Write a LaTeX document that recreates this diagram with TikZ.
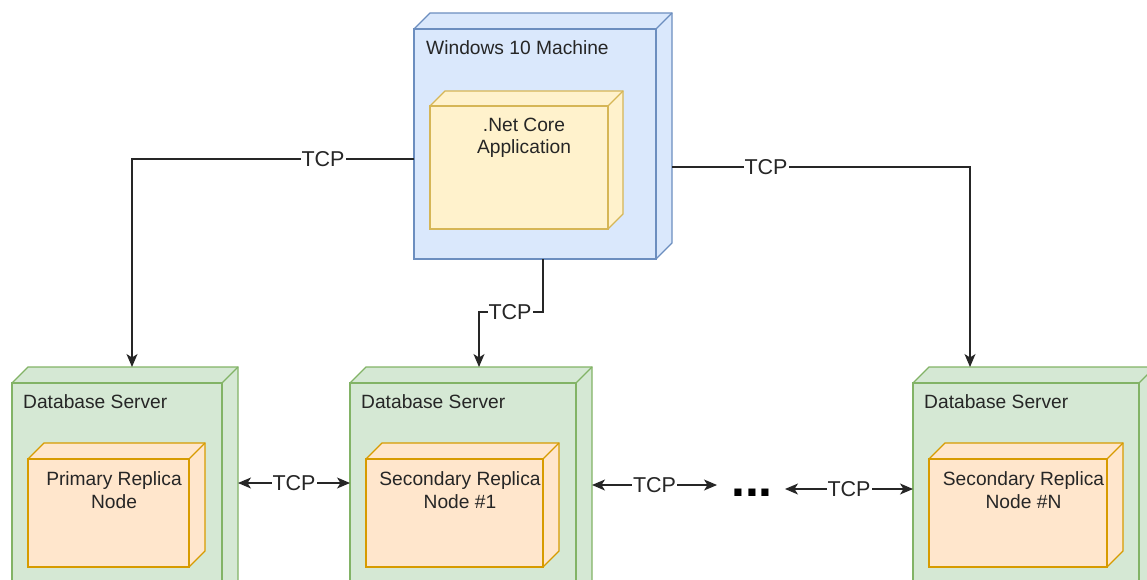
\documentclass[tikz,border=0pt]{standalone}
\usepackage{fontspec}
\setmainfont{Liberation Sans}
\usetikzlibrary{arrows.meta,calc}
\definecolor{bluef}{HTML}{DAE8FC}
\definecolor{blued}{HTML}{6C8EBF}
\definecolor{yellf}{HTML}{FFF2CC}
\definecolor{yelld}{HTML}{D6B656}
\definecolor{greenf}{HTML}{D5E8D4}
\definecolor{greend}{HTML}{82B366}
\definecolor{orf}{HTML}{FFE6CC}
\definecolor{ord}{HTML}{D79B00}
\definecolor{txt}{HTML}{262626}
\newcommand\cubebox[8]{%
  \filldraw[fill=#7,draw=#8,boxline] (#2,#3) -- (#2+#6,#3-#6) -- (#4+#6,#3-#6) -- (#4+#6,#5-#6) -- (#4,#5) -- cycle;
  \draw[draw=#8,boxline] (#4,#3) -- (#4+#6,#3-#6);
  \node[draw=#8,fill=#7,boxline,anchor=north west,inner sep=0pt,outer sep=0pt,
        minimum width={(#4-#2)*1pt},minimum height={(#5-#3)*1pt}] (#1) at (#2,#3) {};
}
\begin{document}
\begin{tikzpicture}[x=1pt,y=-1pt,
  boxline/.style={line width=1.3pt,line join=miter},
  boxtext/.style={text=txt,font=\fontsize{19.2}{22.5}\selectfont,inner sep=0pt},
  conn/.style={draw=black!85,line width=1.3pt},
  tip/.style={-{Stealth[length=13pt,width=11pt,inset=3.5pt]}},
  both/.style={{Stealth[length=13pt,width=11pt,inset=3.5pt]}-{Stealth[length=13pt,width=11pt,inset=3.5pt]}},
  lbl/.style={fill=white,text=txt,font=\fontsize{21.5}{24}\selectfont,inner sep=1pt}]
\useasboundingbox (0,0) rectangle (1147,579);
\clip (0,0) rectangle (1147,579);
% boxes
\cubebox{win}{414}{29}{656}{259}{16}{bluef}{blued}
\node[boxtext,anchor=west] (wint) at (426,48) {Windows 10 Machine};
\cubebox{net}{430}{106}{608}{229}{15}{yellf}{yelld}
\node[boxtext,align=center] (nett) at (524,138) {.Net Core\\Application};
\cubebox{db1}{12}{383}{222}{610}{16}{greenf}{greend}
\node[boxtext,anchor=west] (db1t) at (23,402) {Database Server};
\cubebox{pr}{28}{459}{189}{567}{16}{orf}{ord}
\node[boxtext,align=center] (prt) at (114,490) {Primary Replica\\Node};
\cubebox{db2}{350}{383}{576}{610}{16}{greenf}{greend}
\node[boxtext,anchor=west] (db2t) at (361,402) {Database Server};
\cubebox{s1}{366}{459}{543}{567}{16}{orf}{ord}
\node[boxtext,align=center] (s1t) at (460,490) {Secondary Replica\\Node \#1};
\cubebox{db3}{913}{383}{1139}{610}{16}{greenf}{greend}
\node[boxtext,anchor=west] (db3t) at (924,402) {Database Server};
\cubebox{sn}{929}{459}{1107}{567}{16}{orf}{ord}
\node[boxtext,align=center] (snt) at (1023.5,490) {Secondary Replica\\Node \#N};
% connectors
\draw[conn,tip] ($(win.north west)+(0,130)$) -| ($(db1.north west)+(120,-16)$);
\node[lbl] (l1) at (323,159) {TCP};
\draw[conn,tip] ($(win.north east)+(16,138)$) -| ($(db3.north west)+(57,-16)$);
\node[lbl] (l2) at (766,167) {TCP};
\draw[conn,tip] ($(win.south west)+(129,0)$) -- ++(0,53) -| ($(db2.north west)+(129,-16)$);
\node[lbl] (l3) at (510,312) {TCP};
\draw[conn,both] ($(db1.north east)+(16,100)$) -- ($(db2.north west)+(0,100)$) node[lbl,midway] (l4) {TCP};
\draw[conn,both] ($(db2.north east)+(16,102)$) -- ($(db2.north east)+(141,102)$) node[lbl,midway] (l5) {TCP};
\node[text=black,font=\fontsize{50}{50}\selectfont\bfseries,anchor=base,inner sep=0pt] (dots) at (752,496) {...};
\draw[conn,both] ($(db3.north west)+(-128,106)$) -- ($(db3.north west)+(0,106)$) node[lbl,midway] (l6) {TCP};
\end{tikzpicture}
\end{document}
